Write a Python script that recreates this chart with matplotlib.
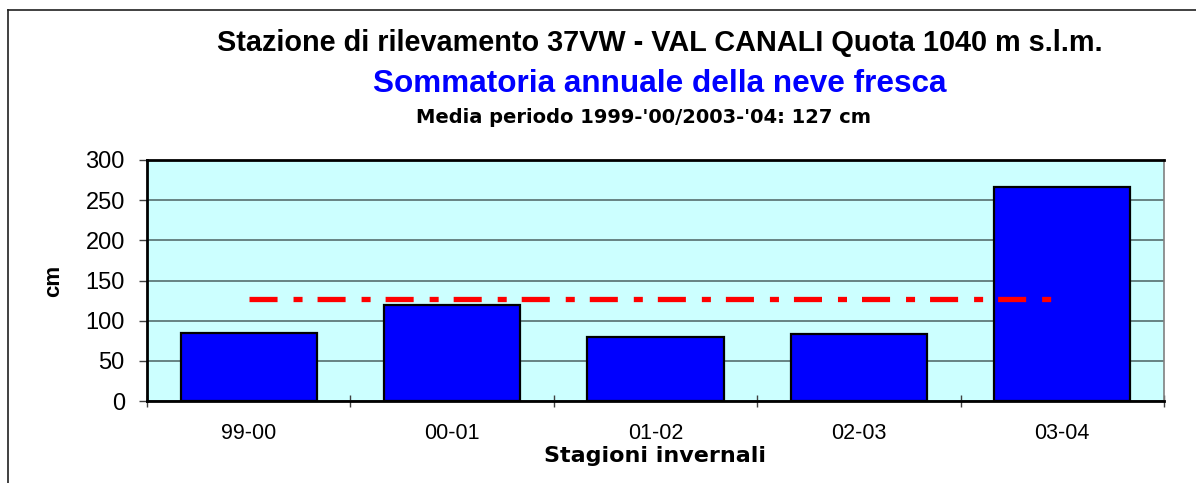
import matplotlib
matplotlib.use("Agg")
import matplotlib.pyplot as plt
from matplotlib.lines import Line2D
import numpy as np

# Stagioni invernali e neve fresca cumulata (cm)
stagioni = ["99-00", "00-01", "01-02", "02-03", "03-04"]
neve_fresca = [85, 120, 80, 83, 267]
media_periodo = 127

plt.rcParams['font.family'] = ['Liberation Sans', 'DejaVu Sans']
plt.rcParams['lines.scale_dashes'] = False

W, H = 1196, 483
fig = plt.figure(figsize=(W / 100, H / 100), dpi=100)
ax = fig.add_axes([147 / W, 1 - 401 / H, (1164 - 147) / W, (401 - 160) / H])
ax.set_facecolor('#CCFFFF')

x = np.arange(len(stagioni))
ax.bar(x, neve_fresca, width=0.67, color='#0000FF', edgecolor='black',
       linewidth=1.6, zorder=3)

# linea della media del periodo
ax.plot([x[0], x[-1]], [media_periodo, media_periodo], color='#FF0000',
        linewidth=3.8, linestyle=(0, (20.2, 11.5, 6.5, 10.8)),
        solid_capstyle='butt', dash_capstyle='butt', zorder=4)

ax.set_xlim(-0.5, len(stagioni) - 0.5)
ax.set_ylim(0, 300)
ax.set_yticks(range(0, 301, 50))
ax.yaxis.grid(True, color='#5F7A7A', linewidth=1.3, zorder=1)
ax.set_axisbelow(True)

# etichette al centro, tacche tra le categorie
ax.set_xticks(x)
ax.set_xticklabels(stagioni, fontsize=15.5)
ax.tick_params(axis='x', which='major', length=0, pad=16)
ax.set_xticks(np.arange(-0.5, len(stagioni)), minor=True)
ax.tick_params(axis='x', which='minor', direction='inout', length=8.6,
               width=1, color='#404040')
ax.tick_params(axis='y', direction='out', length=6, width=1, color='#404040',
               labelsize=17, pad=10)

for side in ['left', 'bottom', 'top']:
    ax.spines[side].set_linewidth(2)
    ax.spines[side].set_color('black')
ax.spines['right'].set_linewidth(1.2)
ax.spines['right'].set_color('#808080')

ax.set_xlabel('Stagioni invernali', fontsize=16, fontweight='bold',
              family='DejaVu Sans', labelpad=1)
ax.set_ylabel('cm', fontsize=16, fontweight='bold', labelpad=15)

fig.text(660 / W, 1 - 51 / H,
         'Stazione di rilevamento 37VW - VAL CANALI Quota 1040 m s.l.m.',
         ha='center', va='baseline', fontsize=20.8, fontweight='bold')
fig.text(660 / W, 1 - 92 / H, 'Sommatoria annuale della neve fresca',
         ha='center', va='baseline', fontsize=22.7, fontweight='bold',
         color='#0000FF')
fig.text(644 / W, 1 - 123 / H, "Media periodo 1999-'00/2003-'04: 127 cm",
         ha='center', va='baseline', fontsize=14, fontweight='bold',
         family='DejaVu Sans')

# cornice esterna del grafico
fig.add_artist(Line2D([8 / W, 8 / W], [0, 1 - 10 / H], color='#202020',
                      linewidth=1.2, transform=fig.transFigure))
fig.add_artist(Line2D([8 / W, 1], [1 - 10 / H, 1 - 10 / H], color='#202020',
                      linewidth=1.2, transform=fig.transFigure))

fig.savefig('out.png', dpi=100)
